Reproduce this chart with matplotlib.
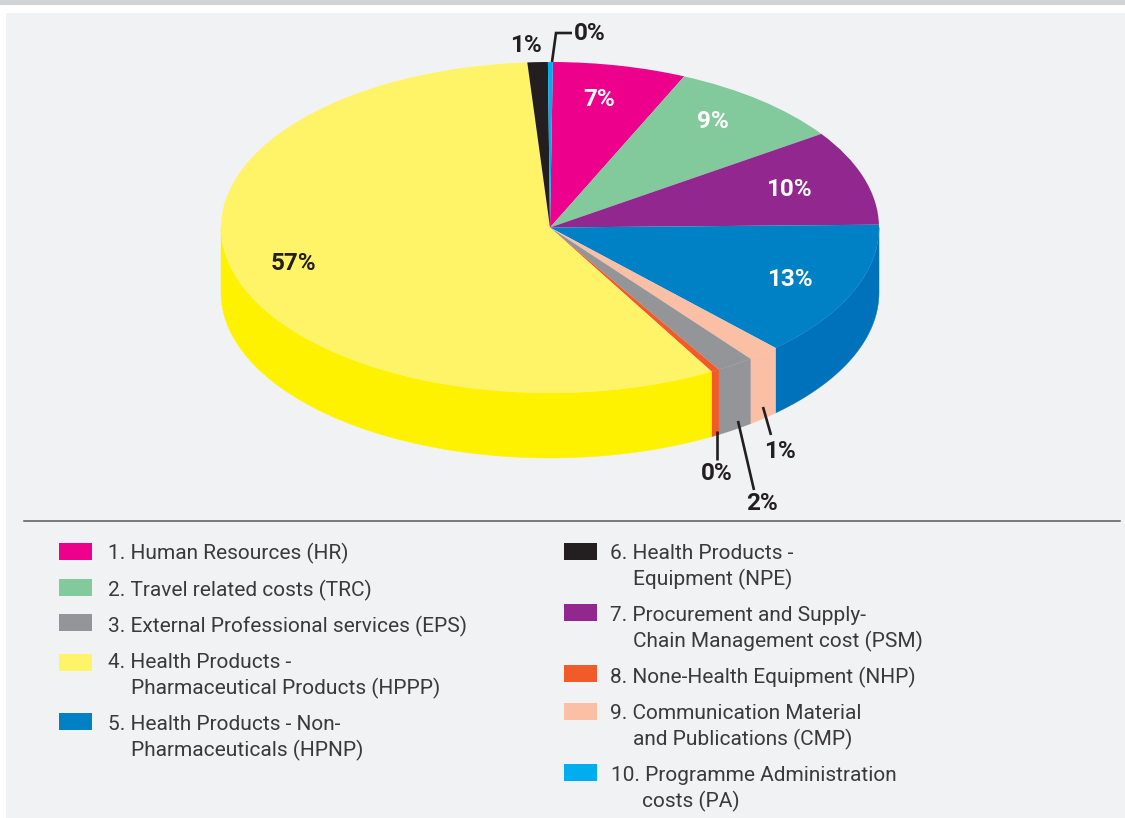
import numpy as np
import matplotlib
matplotlib.use('Agg')
import matplotlib.pyplot as plt
from matplotlib.patches import Rectangle

W, H = 1125, 818

# slices in drawing order, clockwise from the top
slice_names = ['HR', 'TRC', 'PSM', 'HPNP', 'CMP', 'EPS', 'NHP', 'HPPP', 'NPE', 'PA']
slice_values = [6.55, 8.75, 9.3, 13.25, 1.6, 1.85, 0.4, 57.1, 1.0, 0.24]
slice_labels = ['7%', '9%', '10%', '13%', '1%', '2%', '0%', '57%', '1%', '0%']
top_colors = ['#ec008c', '#82ca9c', '#92278f', '#0081c6', '#fbbfa5',
              '#939598', '#f15a29', '#fff467', '#231f20', '#00aeef']
side_colors = ['#ec008c', '#82ca9c', '#92278f', '#0072bc', '#fbbfa5',
               '#939598', '#f15a29', '#fff200', '#231f20', '#00aeef']

legend_left = ['1. Human Resources (HR)', '2. Travel related costs (TRC)',
               '3. External Professional services (EPS)',
               '4. Health Products -', 'Pharmaceutical Products (HPPP)',
               '5. Health Products - Non-', 'Pharmaceuticals (HPNP)']
legend_right = ['6. Health Products -', 'Equipment (NPE)',
                '7. Procurement and Supply-', 'Chain Management cost (PSM)',
                '8. None-Health Equipment (NHP)',
                '9. Communication Material', 'and Publications (CMP)',
                '10. Programme Administration', 'costs (PA)']
swatch_left = ['#ec008c', '#82ca9c', '#939598', '#fff467', '#0081c6']
swatch_right = ['#231f20', '#92278f', '#f15a29', '#fbbfa5', '#00aeef']

fig = plt.figure(figsize=(W / 100, H / 100), dpi=100, facecolor='white')
plt.rcParams['font.family'] = ['Roboto', 'DejaVu Sans']


def page_rect(x0, y0, x1, y1, color):
    fig.add_artist(Rectangle((x0 / W, 1 - y1 / H), (x1 - x0) / W, (y1 - y0) / H,
                             transform=fig.transFigure, facecolor=color,
                             edgecolor='none', zorder=-1))


page_rect(6, 13, W, H, '#f1f2f4')
page_rect(0, 0, W, 5, '#d1d3d4')

# pie axes: [-1, 1] covers the top ellipse, the rest below is the thickness
rx, ry, depth = 329, 165.5, 65
cx, cy = 550, 227.5
ax = fig.add_axes([(cx - rx) / W, 1 - (cy + ry + depth) / H, 2 * rx / W,
                   (2 * ry + depth) / H])

# side walls first, only the front half of the rim is visible
drop = depth / ry
ends = np.cumsum(slice_values) / np.sum(slice_values) * 360 + 0.5
starts = np.r_[0.5, ends[:-1]]
for a0, a1, col in zip(starts, ends, side_colors):
    a0, a1 = max(a0, 90), min(a1, 270)
    if a1 <= a0:
        continue
    t = np.radians(np.linspace(a0, a1, 80))
    xs = np.r_[np.sin(t), np.sin(t)[::-1]]
    ys = np.r_[np.cos(t), np.cos(t)[::-1] - drop]
    ax.fill(xs, ys, facecolor=col, edgecolor=col, lw=0.3, clip_on=False)

ax.pie(slice_values, colors=top_colors, startangle=89.5, counterclock=False,
       radius=1, wedgeprops={'linewidth': 0, 'clip_on': False})
ax.set_aspect('auto')
ax.set_xlim(-1, 1)
ax.set_ylim(-1 - drop, 1)
ax.axis('off')

# everything else in page pixels
page = fig.add_axes([0, 0, 1, 1], zorder=5)
page.set_xlim(0, W)
page.set_ylim(H, 0)
page.axis('off')

page.plot([24, 1120], [521, 521], color='#58595b', lw=1.1)

dark = '#231f20'
leaders = [([552, 556, 572], [62, 33, 33]),
           ([763, 771], [407, 435]),
           ([738, 754], [421, 490]),
           ([717, 717], [431, 460])]
for xs, ys in leaders:
    page.plot(xs, ys, color=dark, lw=1.9, solid_capstyle='butt', solid_joinstyle='miter')

label_xy = [(599, 99), (713, 122), (789, 190), (790, 279), (780, 451),
            (762, 503), (717, 474), (294, 264), (526, 45), (590, 34)]
label_colors = ['white', 'white', 'white', 'white', dark, dark, dark, dark, dark, dark]
for txt, (x, y), col in zip(slice_labels, label_xy, label_colors):
    page.text(x, y, txt, color=col, fontsize=17.5, fontweight='bold',
              ha='center', va='center')

# legend
left_x = [108, 108, 108, 108, 131, 108, 131]
left_y = [559, 596, 632, 668, 694, 730, 756]
right_x = [610, 633, 610, 633, 610, 610, 633, 611, 642]
right_y = [559, 585, 621, 647, 683, 719, 745, 781, 807]
for txt, x, y in zip(legend_left, left_x, left_y):
    page.text(x, y, txt, color='#3a3a3c', fontsize=15, va='baseline')
for txt, x, y in zip(legend_right, right_x, right_y):
    page.text(x, y, txt, color='#3a3a3c', fontsize=15, va='baseline')

swatch_left_y = [543, 579, 614, 654, 713]
swatch_right_y = [543, 604, 665, 703, 764]
for col, y in zip(swatch_left, swatch_left_y):
    page.add_patch(Rectangle((59, y), 33, 17, facecolor=col, edgecolor='none'))
for col, y in zip(swatch_right, swatch_right_y):
    page.add_patch(Rectangle((564, y), 33, 17, facecolor=col, edgecolor='none'))

fig.savefig('out.png', dpi=100)
